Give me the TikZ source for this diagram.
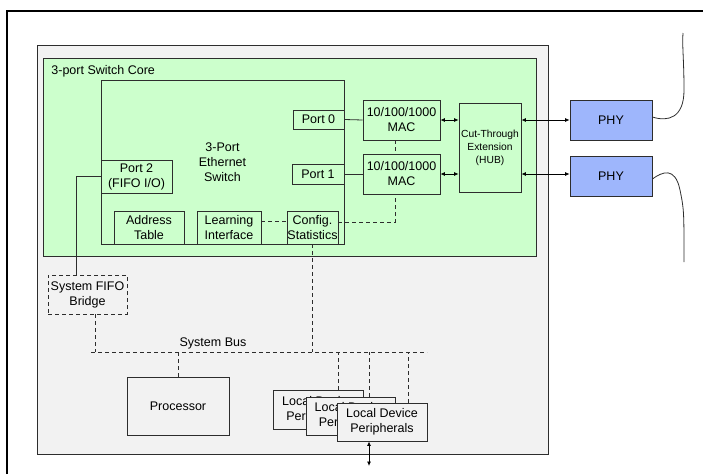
\documentclass[tikz,border=0pt]{standalone}
\usepackage{fontspec}
\setmainfont{Liberation Sans}
\usetikzlibrary{arrows.meta,positioning,calc}
\definecolor{coregreen}{RGB}{204,255,204}
\definecolor{sysgrey}{RGB}{242,242,242}
\definecolor{phyblue}{RGB}{158,182,252}
\definecolor{edgegrey}{RGB}{45,45,45}

\begin{document}
\begin{tikzpicture}[x=1pt,y=-1pt,line width=0.8pt,
  >={Latex[length=4.5pt,width=4pt]},
  every node/.style={font=\fontsize{12.5}{15}\selectfont,inner sep=0pt,align=center},
  blk/.style={draw=edgegrey,fill=coregreen},
  sysblk/.style={draw=edgegrey,fill=sysgrey},
  phyblk/.style={draw=edgegrey,fill=phyblue},
  bus/.style={draw=edgegrey,dash pattern=on 4pt off 3pt},
  link/.style={draw=edgegrey}]
  \useasboundingbox (0,0) rectangle (703,474);
  \draw[line width=2pt] (7,474)--(7,11)--(703,11);

  \node[sysblk,minimum width=511,minimum height=409] (sys) at (292.5,249.5) {};
  \node[blk,minimum width=493,minimum height=198] (core) at (289.5,157) {};
  \node[anchor=west] (corelbl) at (51,71) {3-port Switch Core};
  \node[blk,minimum width=243,minimum height=164] (sw) at (222.5,162) {3-Port\\Ethernet\\Switch};

  \node[blk,minimum width=51,minimum height=19] (Pzero) at (318.5,119.5) {Port 0};
  \node[blk,minimum width=52,minimum height=20] (Pone) at (318,174) {Port 1};
  \node[blk,minimum width=71,minimum height=33] (Ptwo) at (136.5,176.5) {Port 2\\(FIFO I/O)};
  \node[blk,minimum width=70,minimum height=33] (addr) at (149,227.5) {Address\\Table};
  \node[blk,minimum width=64,minimum height=33] (learn) at (229,227.5) {Learning\\Interface};
  \node[blk,minimum width=51,minimum height=33] (cfg) at (312.5,227.5) {Config.\\Statistics};

  \node[blk,minimum width=77,minimum height=40] (MACa) at (401.5,120) {10/100/1000\\MAC};
  \node[blk,minimum width=77,minimum height=40] (MACb) at (401.5,174) {10/100/1000\\MAC};
  \node[blk,minimum width=62,minimum height=89,font=\fontsize{10.3}{13}\selectfont] (hub) at (490,147.5) {Cut-Through\\Extension\\(HUB)};
  \node[phyblk,minimum width=82,minimum height=40] (PHYa) at (611,120) {PHY};
  \node[phyblk,minimum width=82,minimum height=40] (PHYb) at (611,176) {PHY};

  \node[draw=edgegrey,dash pattern=on 4pt off 3pt,minimum width=79,minimum height=39] (bridge) at (87.5,294.5) {System FIFO\\Bridge};
  \node[sysblk,minimum width=102,minimum height=58] (cpu) at (178,406) {Processor};

  \coordinate (busL) at (91,352);
  \coordinate (busR) at (427,352);
  \coordinate (macx) at (395,0);
  \coordinate (ext) at (369,466);
  \node (buslbl) at (213,343) {System Bus};

  \draw[link] (Pzero.east)--(MACa.west);
  \draw[link] (Pone.east)--(MACb.west);
  \draw[<->] (MACa.east)--(hub.west |- MACa.east);
  \draw[<->] (MACb.east)--(hub.west |- MACb.east);
  \draw[<->] (hub.east |- PHYa.west)--(PHYa.west);
  \draw[<->] ($(hub.east |- PHYb.west)+(0,-2)$)--($(PHYb.west)+(0,-2)$);
  \draw[bus] (MACa.south -| macx)--(MACb.north -| macx);
  \draw[bus] ([yshift=6pt]learn.east)--([yshift=6pt]cfg.west);
  \draw[bus] ([yshift=5pt]cfg.east) -| (MACb.south -| macx);
  \draw[link] (Ptwo.west) -| ([xshift=-11.5pt]bridge.north);

  \draw[bus] (busL)--(busR);
  \draw[bus] ([xshift=7.5pt]bridge.south)--([xshift=7.5pt]bridge.south |- busL);
  \draw[bus] (cfg.south)--(cfg.south |- busL);
  \draw[bus] (cpu.north)--(cpu.north |- busL);

  \node[sysblk,minimum width=90,minimum height=39] (locA) at (318,409.5) {Local Device\\Peripherals};
  \node[sysblk,minimum width=89,minimum height=38] (locB) at (350.5,416) {Local Device\\Peripherals};
  \node[sysblk,minimum width=90,minimum height=38] (locC) at (382,422) {Local Device\\Peripherals};
  \draw[bus] ([xshift=20pt]locA.north)--([xshift=20pt]locA.north |- busL);
  \draw[bus] ([xshift=18.5pt]locB.north)--([xshift=18.5pt]locB.north |- busL);
  \draw[bus] ([xshift=26pt]locC.north)--([xshift=26pt]locC.north |- busL);
  \draw[<->] (locC.south -| ext)--(ext);

  \draw[link] ([yshift=3pt]PHYa.east) .. controls (668,122) and (684,118) .. (684,90)
    .. controls (684,60) and (682,45) .. (683,33);
  \draw[link] ([yshift=-3pt]PHYb.east) .. controls (662,172) and (675,166) .. (680,190)
    .. controls (684,210) .. (684,262);
\end{tikzpicture}
\end{document}
